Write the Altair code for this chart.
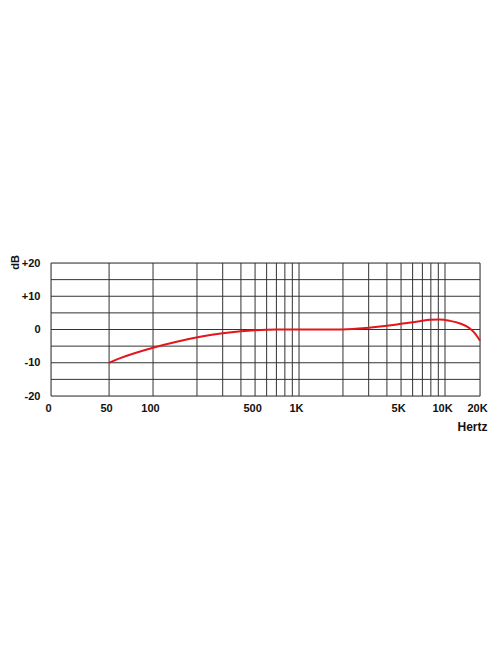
import altair as alt
import pandas as pd

# Frequency response curve (Hz, dB)
freq = [50, 59, 100, 145, 210, 300, 400, 500, 700, 1000, 1500, 2000, 3000, 4000,
        5000, 6000, 6700, 7900, 9200, 11000, 13500, 16400, 18100, 20000]
db = [-10.0, -8.7, -5.5, -3.7, -2.2, -1.1, -0.5, -0.2, 0.0, 0.0, 0.0, 0.0, 0.5, 1.1,
      1.7, 2.2, 2.5, 2.9, 3.0, 2.6, 1.8, 0.3, -1.2, -3.4]

# Grid lines
v_grid = [20, 50, 100, 200, 300, 400, 500, 600, 700, 800, 900, 1000,
          2000, 3000, 4000, 5000, 6000, 7000, 8000, 9000, 10000, 20000]
h_grid = [-20, -15, -10, -5, 0, 5, 10, 15, 20]

# Tick labels
x_tick_values = [20, 50, 100, 500, 1000, 5000, 10000, 20000]
x_tick_labels = ["0", "50", "100", "500", "1K", "5K", "10K", "20K"]
y_tick_values = [-20, -10, 0, 10, 20]
y_tick_labels = ["-20", "-10", "0", "+10", "+20"]


def label_expr(values, labels):
    expr = "''"
    for v, l in reversed(list(zip(values, labels))):
        expr = f"datum.value == {v} ? '{l}' : ({expr})"
    return expr


FONT = "Liberation Sans"
W, H = 429, 133

x_scale = alt.Scale(type="log", domain=[20, 10000, 20000], range=[0, 394, W],
                    nice=False, zero=False)
y_scale = alt.Scale(domain=[-20, 20], nice=False, zero=False)

curve_df = pd.DataFrame({"freq": freq, "db": db})
vgrid_df = pd.DataFrame({"freq": v_grid})
hgrid_df = pd.DataFrame({"db": h_grid})

x_axis = alt.Axis(values=x_tick_values, labelExpr=label_expr(x_tick_values, x_tick_labels),
                  grid=False, ticks=False, domain=False, labelPadding=6, labelOffset=-3,
                  labelFont=FONT, labelFontSize=11, labelFontWeight="bold", labelColor="#111",
                  labelFlush=False, labelOverlap=False,
                  title="Hertz", titleFont=FONT, titleFontSize=12, titleFontWeight="bold",
                  titleX=421, titleY=30, titleAlign="center", titleBaseline="middle",
                  titleColor="#111")
y_axis = alt.Axis(values=y_tick_values, labelExpr=label_expr(y_tick_values, y_tick_labels),
                  grid=False, ticks=False, domain=False, labelPadding=11,
                  labelFont=FONT, labelFontSize=11, labelFontWeight="bold", labelColor="#111",
                  labelFlush=False, labelOverlap=False,
                  title="dB", titleFont=FONT, titleFontSize=11, titleFontWeight="bold",
                  titleAngle=270, titleX=-36, titleY=-1, titleAlign="center",
                  titleBaseline="middle", titleColor="#111")

vgrid = alt.Chart(vgrid_df).mark_rule(color="#333333", strokeWidth=1).encode(
    x=alt.X("freq:Q", scale=x_scale, axis=x_axis)
)
hgrid = alt.Chart(hgrid_df).mark_rule(color="#333333", strokeWidth=1).encode(
    y=alt.Y("db:Q", scale=y_scale, axis=y_axis)
)
line = alt.Chart(curve_df).mark_line(color="#e3161b", strokeWidth=2,
                                     interpolate="monotone").encode(
    x=alt.X("freq:Q", scale=x_scale, axis=x_axis),
    y=alt.Y("db:Q", scale=y_scale, axis=y_axis),
)

chart = alt.layer(vgrid, hgrid, line).properties(
    width=W, height=H,
    autosize=alt.AutoSizeParams(type="none"),
    padding={"left": 43, "top": 255, "right": 8, "bottom": 60},
).configure_view(stroke=None).configure_axis(labelOverlap=False).configure(background="white")

chart.save("out.html", embed_options={"renderer": "svg", "actions": False})
